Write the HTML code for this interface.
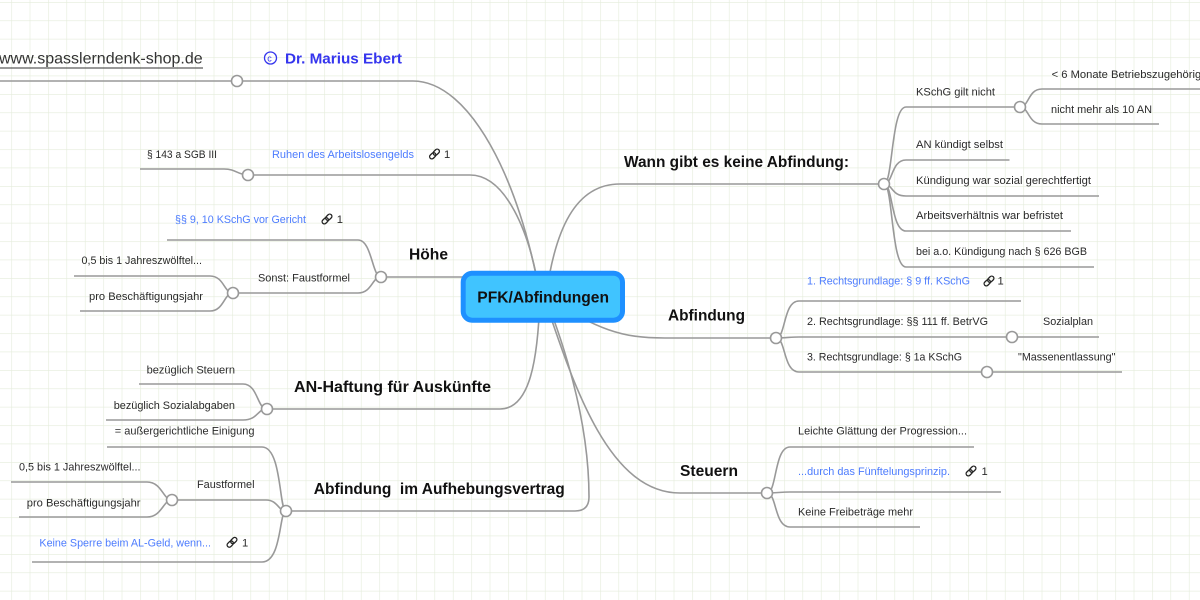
<!DOCTYPE html>
<html>
<head>
<meta charset="utf-8">
<style>
html,body{margin:0;padding:0;background:#fff;}
body{width:1200px;height:600px;overflow:hidden;}
svg{display:block;}
text{font-family:"Liberation Sans",Arial,sans-serif;}
.t{font-size:11.2px;fill:#2a2a2a;}
.l{font-size:11.2px;fill:#4d7cfe;}
.b{font-size:15.5px;font-weight:bold;fill:#111;}
.ln{fill:none;stroke:#999;stroke-width:1.6;}
.c{fill:#fff;stroke:#999;stroke-width:1.6;}
.ic{fill:none;stroke:#222;stroke-width:1.3;}
</style>
</head>
<body>
<svg width="1200" height="600" viewBox="0 0 1200 600" xmlns="http://www.w3.org/2000/svg">
<defs>
<pattern id="g" x="11.3" y="2" width="18.4" height="18.4" patternUnits="userSpaceOnUse">
<path d="M0 0V18.4M0 0H18.4" stroke="#e4ecdb" stroke-width="1.2" fill="none"/>
</pattern>
<g id="chain">
<rect x="-6" y="-2.2" width="7" height="4.4" rx="2.2" transform="rotate(-45)" class="ic"/>
<rect x="-1" y="-2.2" width="7" height="4.4" rx="2.2" transform="rotate(-45)" class="ic"/>
</g>
</defs>
<rect width="1200" height="600" fill="#fff"/>
<rect width="1200" height="600" fill="url(#g)"/>

<!-- main branches -->
<path class="ln" d="M0 81H413C470 81 520 180 540 296"/>
<path class="ln" d="M248 175H470C505 175 530 230 540 296"/>
<path class="ln" d="M381 277H545"/>
<path class="ln" d="M267 409H500C530 409 538 360 540 296"/>
<path class="ln" d="M286 511H575Q589 511 589 497C589 430 570 360 545 296"/>
<path class="ln" d="M546 296C555 230 575 184 620 184H884"/>
<path class="ln" d="M543 296C600 330 620 338 665 338H776"/>
<path class="ln" d="M545 300C575 390 610 493 680 493H767"/>

<!-- left children -->
<path class="ln" d="M248 175C238 175 236 169 224 169H140"/>
<path class="ln" d="M381 277C372 277 372 240 358 240H167"/>
<path class="ln" d="M381 277C372 277 372 293 358 293H233"/>
<path class="ln" d="M233 293C224 293 224 276 210 276H74"/>
<path class="ln" d="M233 293C224 293 224 311 210 311H80"/>
<path class="ln" d="M267 409C257 409 258 384 243 384H139"/>
<path class="ln" d="M267 409C257 409 258 420 243 420H106"/>
<path class="ln" d="M286 511C279 511 282 447 262 447H107"/>
<path class="ln" d="M286 511C278 511 278 500 266 500H172"/>
<path class="ln" d="M286 511C279 511 282 562 262 562H32"/>
<path class="ln" d="M172 500C163 500 162 482 147 482H11"/>
<path class="ln" d="M172 500C163 500 162 517 147 517H19"/>

<!-- right children -->
<path class="ln" d="M884 184C893 184 891 107 906 107H1020"/>
<path class="ln" d="M884 184C893 184 891 160 906 160H1009.5"/>
<path class="ln" d="M884 184C893 184 891 196 906 196H1099"/>
<path class="ln" d="M884 184C893 184 891 231 906 231H1071"/>
<path class="ln" d="M884 184C893 184 891 267 906 267H1094"/>
<path class="ln" d="M1020 107C1029 107 1028 89 1042 89H1200"/>
<path class="ln" d="M1020 107C1029 107 1028 124 1042 124H1159"/>
<path class="ln" d="M776 338C786 338 783 301 799 301H1021"/>
<path class="ln" d="M776 338C786 338 790 337 799 337H1099"/>
<path class="ln" d="M776 338C786 338 783 372 799 372H1122"/>
<path class="ln" d="M767 493C777 493 774 447 790 447H974"/>
<path class="ln" d="M767 493C777 493 780 492 790 492H1001"/>
<path class="ln" d="M767 493C777 493 774 527 790 527H920"/>

<!-- circles -->
<circle class="c" cx="237" cy="81" r="5.5"/>
<circle class="c" cx="248" cy="175" r="5.5"/>
<circle class="c" cx="381" cy="277" r="5.5"/>
<circle class="c" cx="233" cy="293" r="5.5"/>
<circle class="c" cx="267" cy="409" r="5.5"/>
<circle class="c" cx="286" cy="511" r="5.5"/>
<circle class="c" cx="172" cy="500" r="5.5"/>
<circle class="c" cx="884" cy="184" r="5.5"/>
<circle class="c" cx="1020" cy="107" r="5.5"/>
<circle class="c" cx="776" cy="338" r="5.5"/>
<circle class="c" cx="1012" cy="337" r="5.5"/>
<circle class="c" cx="987" cy="372" r="5.5"/>
<circle class="c" cx="767" cy="493" r="5.5"/>

<!-- root -->
<rect x="463.2" y="273.2" width="159.3" height="47" rx="9" fill="#40c4ff" stroke="#1e90ff" stroke-width="5"/>
<text x="477.3" y="302.5" class="b" textLength="131.7" lengthAdjust="spacingAndGlyphs">PFK/Abfindungen</text>

<!-- header texts -->
<text x="-1" y="63.5" style="font-size:16px;fill:#333;">www.spasslerndenk-shop.de</text>
<line x1="0" y1="68" x2="203" y2="68" stroke="#333" stroke-width="1"/>
<circle cx="270.5" cy="58" r="6" fill="none" stroke="#3535ee" stroke-width="1.3"/>
<text x="267.3" y="61.3" style="font-size:9px;fill:#3535ee;">c</text>
<text x="285" y="63.5" style="font-size:15.2px;font-weight:bold;fill:#3535ee;" textLength="117" lengthAdjust="spacingAndGlyphs">Dr. Marius Ebert</text>

<!-- bold topics -->
<text x="409" y="259.5" class="b" textLength="39" lengthAdjust="spacingAndGlyphs">Höhe</text>
<text x="624" y="167.2" class="b" textLength="225" lengthAdjust="spacingAndGlyphs">Wann gibt es keine Abfindung:</text>
<text x="668" y="320.5" class="b" textLength="77" lengthAdjust="spacingAndGlyphs">Abfindung</text>
<text x="680" y="476.2" class="b" textLength="58" lengthAdjust="spacingAndGlyphs">Steuern</text>
<text x="294" y="392.2" class="b" textLength="197" lengthAdjust="spacingAndGlyphs">AN-Haftung für Auskünfte</text>
<text x="313.8" y="493.8" class="b" textLength="251" lengthAdjust="spacingAndGlyphs" xml:space="preserve">Abfindung  im Aufhebungsvertrag</text>

<!-- left labels -->
<text x="147" y="158" class="t" textLength="70" lengthAdjust="spacingAndGlyphs">§ 143 a SGB III</text>
<text x="272" y="158" class="l" textLength="142" lengthAdjust="spacingAndGlyphs">Ruhen des Arbeitslosengelds</text>
<use href="#chain" x="434.5" y="154"/>
<text x="444" y="158" class="t">1</text>
<text x="175" y="223" class="l" textLength="131" lengthAdjust="spacingAndGlyphs">§§ 9, 10 KSchG vor Gericht</text>
<use href="#chain" x="327" y="219"/>
<text x="336.8" y="223" class="t">1</text>
<text x="81.5" y="264" class="t" textLength="120.5" lengthAdjust="spacingAndGlyphs">0,5 bis 1 Jahreszwölftel...</text>
<text x="258" y="281.7" class="t" textLength="92" lengthAdjust="spacingAndGlyphs">Sonst: Faustformel</text>
<text x="89" y="300" class="t" textLength="114" lengthAdjust="spacingAndGlyphs">pro Beschäftigungsjahr</text>
<text x="146.6" y="373.3" class="t" textLength="88.4" lengthAdjust="spacingAndGlyphs">bezüglich Steuern</text>
<text x="113.7" y="409" class="t" textLength="121.3" lengthAdjust="spacingAndGlyphs">bezüglich Sozialabgaben</text>
<text x="114.8" y="434.7" class="t" textLength="139.7" lengthAdjust="spacingAndGlyphs">= außergerichtliche Einigung</text>
<text x="19" y="470.7" class="t" textLength="121.5" lengthAdjust="spacingAndGlyphs">0,5 bis 1 Jahreszwölftel...</text>
<text x="197" y="488" class="t" textLength="57.5" lengthAdjust="spacingAndGlyphs">Faustformel</text>
<text x="26.8" y="506.3" class="t" textLength="113.7" lengthAdjust="spacingAndGlyphs">pro Beschäftigungsjahr</text>
<text x="39.4" y="546.3" class="l" textLength="171.6" lengthAdjust="spacingAndGlyphs">Keine Sperre beim AL-Geld, wenn...</text>
<use href="#chain" x="232" y="542.3"/>
<text x="242" y="546.3" class="t">1</text>

<!-- right labels -->
<text x="916" y="95.7" class="t" textLength="79" lengthAdjust="spacingAndGlyphs">KSchG gilt nicht</text>
<text x="1051.6" y="78" class="t">&lt; 6 Monate Betriebszugehörigkeit</text>
<text x="1051" y="113" class="t" textLength="101" lengthAdjust="spacingAndGlyphs">nicht mehr als 10 AN</text>
<text x="916" y="148" class="t" textLength="87" lengthAdjust="spacingAndGlyphs">AN kündigt selbst</text>
<text x="916" y="184" class="t" textLength="175" lengthAdjust="spacingAndGlyphs">Kündigung war sozial gerechtfertigt</text>
<text x="916" y="219" class="t" textLength="147" lengthAdjust="spacingAndGlyphs">Arbeitsverhältnis war befristet</text>
<text x="916" y="255" class="t" textLength="171" lengthAdjust="spacingAndGlyphs">bei a.o. Kündigung nach § 626 BGB</text>
<text x="807" y="284.7" class="l" textLength="163" lengthAdjust="spacingAndGlyphs">1. Rechtsgrundlage: § 9 ff. KSchG</text>
<use href="#chain" x="989" y="281"/>
<text x="997.5" y="284.7" class="t">1</text>
<text x="807" y="325" class="t" textLength="181" lengthAdjust="spacingAndGlyphs">2. Rechtsgrundlage: §§ 111 ff. BetrVG</text>
<text x="1043" y="325" class="t" textLength="50" lengthAdjust="spacingAndGlyphs">Sozialplan</text>
<text x="807" y="360.7" class="t" textLength="155" lengthAdjust="spacingAndGlyphs">3. Rechtsgrundlage: § 1a KSchG</text>
<text x="1018" y="360.7" class="t" textLength="97.5" lengthAdjust="spacingAndGlyphs">"Massenentlassung"</text>
<text x="798" y="434.7" class="t" textLength="169" lengthAdjust="spacingAndGlyphs">Leichte Glättung der Progression...</text>
<text x="798" y="475" class="l" textLength="152" lengthAdjust="spacingAndGlyphs">...durch das Fünftelungsprinzip.</text>
<use href="#chain" x="971" y="471"/>
<text x="981.5" y="475" class="t">1</text>
<text x="798" y="515.7" class="t" textLength="115" lengthAdjust="spacingAndGlyphs">Keine Freibeträge mehr</text>
</svg>
</body>
</html>
